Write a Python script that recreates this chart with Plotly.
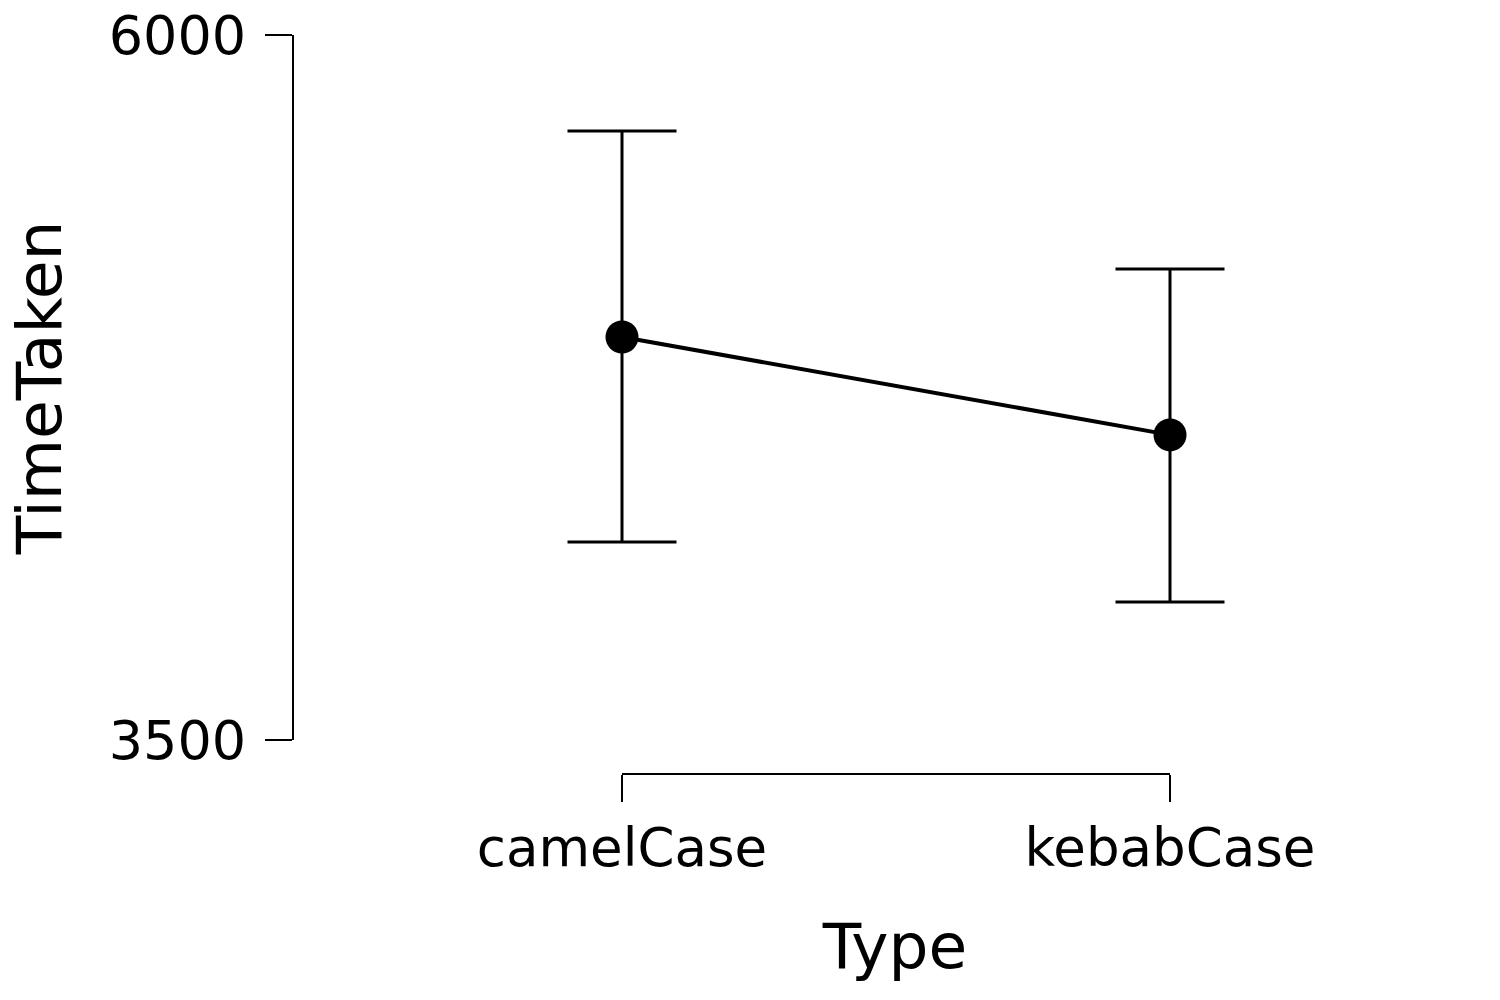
import plotly.graph_objects as go

categories = ["camelCase", "kebabCase"]
means = [4929, 4582]
upper = [5660, 5170]
lower = [4202, 3989]
y_ticks = [3500, 6000]

err_plus = [u - m for u, m in zip(upper, means)]
err_minus = [m - l for m, l in zip(means, lower)]
idx = list(range(len(categories)))

FONT = "DejaVu Sans"

fig = go.Figure()
fig.add_trace(go.Scatter(
    x=idx, y=means, mode="lines+markers",
    line=dict(color="black", width=4),
    marker=dict(color="black", size=33),
    error_y=dict(type="data", symmetric=False, array=err_plus, arrayminus=err_minus,
                 color="black", thickness=3, width=54.5),
    showlegend=False, cliponaxis=False,
))

W, H = 1500, 1000
px_per_cat = 548
x_left_px, x_cat0_px = 290, 622
fig.update_layout(
    width=W, height=H, autosize=False,
    margin=dict(l=0, r=0, t=0, b=0),
    paper_bgcolor="white", plot_bgcolor="white",
    font=dict(family=FONT, color="black"),
    xaxis=dict(
        domain=[x_left_px / W, 1.0],
        range=[-(x_cat0_px - x_left_px) / px_per_cat, (W - x_cat0_px) / px_per_cat],
        tickmode="array", tickvals=idx, ticktext=categories,
        ticks="outside", ticklen=27, tickwidth=2, tickcolor="black",
        showline=False, showgrid=False, zeroline=False,
        anchor="free", position=(H - 774) / H,
        tickfont=dict(size=53, family=FONT, color="black"),
        title=dict(text="Type", font=dict(size=63, family=FONT, color="black"), standoff=47),
        automargin=False,
    ),
    yaxis=dict(
        domain=[(H - 740) / H, (H - 35) / H],
        range=[y_ticks[0], y_ticks[-1]],
        tickmode="array", tickvals=y_ticks,
        ticks="outside", ticklen=27, tickwidth=2, tickcolor="black",
        ticklabelstandoff=8,
        showline=True, linewidth=2, linecolor="black",
        showgrid=False, zeroline=False,
        anchor="free", position=293 / W,
        tickfont=dict(size=54, family=FONT, color="black"),
        title=dict(text="TimeTaken", font=dict(size=63, family=FONT, color="black"), standoff=26),
        automargin=False,
    ),
    shapes=[dict(type="line", xref="x", yref="paper",
                 x0=idx[0], x1=idx[-1], y0=(H - 774) / H, y1=(H - 774) / H,
                 line=dict(color="black", width=2))],
)

fig.write_html("out.html")
